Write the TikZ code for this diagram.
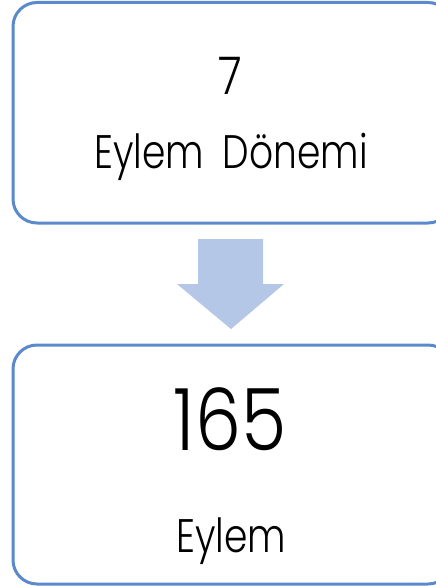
\documentclass[tikz,border=0pt]{standalone}
\usepackage{fontspec}
\setmainfont{Poppins Light}
\newfontfamily\labfont{Poppins Light}[FakeStretch=0.8]
\newfontfamily\numfont{Poppins Light}[FakeStretch=0.85]
\definecolor{boxline}{HTML}{5A8ACB}
\definecolor{arrowfill}{HTML}{B4C7E7}
\begin{document}
\begin{tikzpicture}[x=1pt,y=-1pt,
  roundbox/.style={draw=boxline,line width=3pt,fill=white,rounded corners=24pt},
  numtext/.style={anchor=base,inner sep=0pt,font=\numfont\fontsize{52}{60}\selectfont},
  bignum/.style={anchor=base,inner sep=0pt,font=\numfont\fontsize{86}{96}\selectfont},
  labtext/.style={anchor=base,inner sep=0pt,font=\labfont\fontsize{47}{56}\selectfont}]
\useasboundingbox (0,0) rectangle (436,586);
\clip (0,0) rectangle (436,586);
\draw[roundbox] (13,2.5) rectangle (452,223);
\draw[roundbox] (13,345) rectangle (452,584);
\fill[arrowfill] (198,239) -- (263,239) -- (263,284) -- (284,284) -- (231,329) -- (177,284) -- (198,284) -- cycle;
\node[numtext] (n7) at (230,94) {7};
\node[labtext] (l1) at (231,168) {Eylem\hspace{0.4em}Dönemi};
\node[bignum] (n165) at (230,450) {165};
\node[labtext] (l2) at (231,552) {Eylem};
\end{tikzpicture}
\end{document}
